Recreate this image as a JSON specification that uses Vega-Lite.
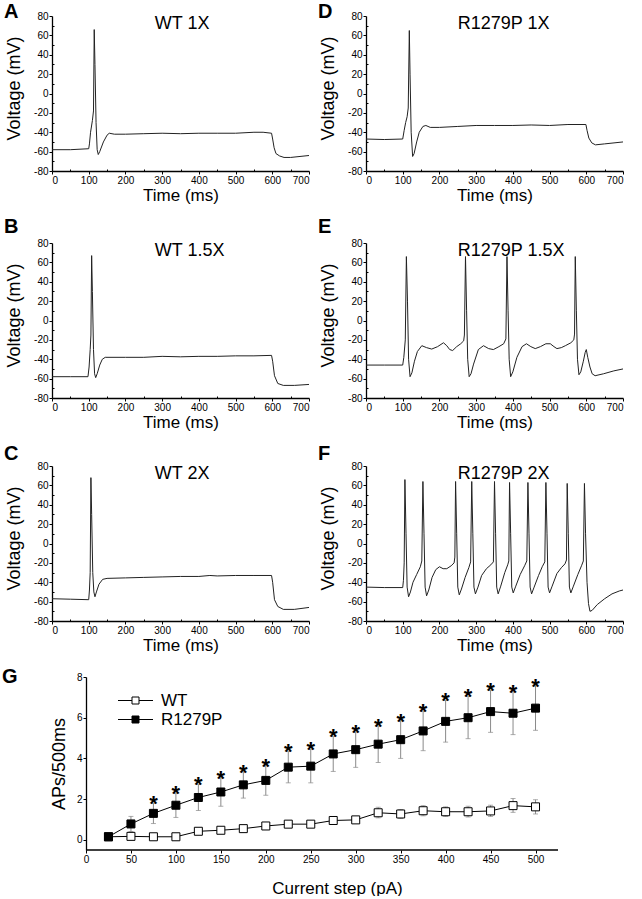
{
 "$schema": "https://vega.github.io/schema/vega-lite/v6.json",
 "padding": {"left": 1, "top": 2, "right": 0, "bottom": 0},
 "config": {
  "font": "Liberation Sans",
  "view": {"stroke": null},
  "axis": {"grid": false, "domainColor": "black", "tickColor": "black", "labelColor": "black", "titleColor": "black", "domainWidth": 1.3, "tickWidth": 1, "labelFont": "Liberation Sans", "titleFont": "Liberation Sans", "titleFontWeight": "normal", "labelOverlap": false, "labelFontSize": 10, "labelPadding": 1, "tickSize": 3},
  "text": {"font": "Liberation Sans", "color": "black"}
 },
 "datasets": {
  "tr": [
   {"p":"A","t":0,"v":-58},{"p":"A","t":50,"v":-58},{"p":"A","t":100,"v":-57},{"p":"A","t":102,"v":-52},{"p":"A","t":105,"v":-40},{"p":"A","t":110,"v":-28},{"p":"A","t":113,"v":-18},{"p":"A","t":115,"v":66},{"p":"A","t":117,"v":30},{"p":"A","t":120,"v":-30},{"p":"A","t":123,"v":-58},{"p":"A","t":126,"v":-63},{"p":"A","t":130,"v":-60},{"p":"A","t":140,"v":-50},{"p":"A","t":150,"v":-43},{"p":"A","t":156,"v":-41},{"p":"A","t":170,"v":-42},{"p":"A","t":200,"v":-42},{"p":"A","t":250,"v":-41.5},{"p":"A","t":300,"v":-41},{"p":"A","t":350,"v":-41.5},{"p":"A","t":400,"v":-41},{"p":"A","t":450,"v":-41},{"p":"A","t":500,"v":-41},{"p":"A","t":550,"v":-40},{"p":"A","t":575,"v":-40},{"p":"A","t":598,"v":-41},{"p":"A","t":601,"v":-47},{"p":"A","t":605,"v":-56},{"p":"A","t":610,"v":-62},{"p":"A","t":620,"v":-64.5},{"p":"A","t":632,"v":-66},{"p":"A","t":650,"v":-66},{"p":"A","t":700,"v":-64},
   {"p":"D","t":0,"v":-47},{"p":"D","t":50,"v":-47.5},{"p":"D","t":100,"v":-47},{"p":"D","t":104,"v":-38},{"p":"D","t":108,"v":-30},{"p":"D","t":112,"v":-24},{"p":"D","t":115,"v":-15},{"p":"D","t":118,"v":65},{"p":"D","t":120,"v":20},{"p":"D","t":123,"v":-40},{"p":"D","t":127,"v":-65},{"p":"D","t":131,"v":-62},{"p":"D","t":138,"v":-50},{"p":"D","t":145,"v":-40},{"p":"D","t":155,"v":-34},{"p":"D","t":163,"v":-33},{"p":"D","t":175,"v":-35},{"p":"D","t":200,"v":-35},{"p":"D","t":250,"v":-34},{"p":"D","t":300,"v":-33},{"p":"D","t":350,"v":-33},{"p":"D","t":400,"v":-33},{"p":"D","t":450,"v":-32.5},{"p":"D","t":500,"v":-33},{"p":"D","t":550,"v":-32},{"p":"D","t":599,"v":-32},{"p":"D","t":602,"v":-38},{"p":"D","t":607,"v":-46},{"p":"D","t":615,"v":-51},{"p":"D","t":625,"v":-53},{"p":"D","t":650,"v":-52},{"p":"D","t":700,"v":-50},
   {"p":"B","t":0,"v":-58},{"p":"B","t":50,"v":-58},{"p":"B","t":98,"v":-58},{"p":"B","t":101,"v":-48},{"p":"B","t":104,"v":-30},{"p":"B","t":106,"v":-15},{"p":"B","t":108,"v":67},{"p":"B","t":110,"v":30},{"p":"B","t":113,"v":-30},{"p":"B","t":116,"v":-55},{"p":"B","t":119,"v":-59},{"p":"B","t":123,"v":-55},{"p":"B","t":130,"v":-46},{"p":"B","t":137,"v":-40},{"p":"B","t":145,"v":-38},{"p":"B","t":200,"v":-38},{"p":"B","t":250,"v":-38},{"p":"B","t":300,"v":-37},{"p":"B","t":350,"v":-37.5},{"p":"B","t":400,"v":-37},{"p":"B","t":450,"v":-37},{"p":"B","t":500,"v":-36.5},{"p":"B","t":550,"v":-36.5},{"p":"B","t":598,"v":-36},{"p":"B","t":601,"v":-42},{"p":"B","t":606,"v":-57},{"p":"B","t":615,"v":-65},{"p":"B","t":630,"v":-67},{"p":"B","t":660,"v":-67},{"p":"B","t":700,"v":-66},
   {"p":"E","t":0,"v":-46},{"p":"E","t":50,"v":-46},{"p":"E","t":100,"v":-46},{"p":"E","t":103,"v":-38},{"p":"E","t":107,"v":-20},{"p":"E","t":110,"v":66},{"p":"E","t":113,"v":20},{"p":"E","t":116,"v":-40},{"p":"E","t":120,"v":-58},{"p":"E","t":125,"v":-54},{"p":"E","t":132,"v":-42},{"p":"E","t":140,"v":-32},{"p":"E","t":152,"v":-26},{"p":"E","t":165,"v":-28},{"p":"E","t":179,"v":-29.5},{"p":"E","t":195,"v":-27},{"p":"E","t":211,"v":-23},{"p":"E","t":220,"v":-26},{"p":"E","t":228,"v":-30},{"p":"E","t":236,"v":-31},{"p":"E","t":247,"v":-27},{"p":"E","t":258,"v":-24},{"p":"E","t":266,"v":-21},{"p":"E","t":268,"v":-15},{"p":"E","t":271,"v":66},{"p":"E","t":274,"v":10},{"p":"E","t":277,"v":-40},{"p":"E","t":281,"v":-58},{"p":"E","t":286,"v":-55},{"p":"E","t":293,"v":-45},{"p":"E","t":306,"v":-30},{"p":"E","t":320,"v":-26},{"p":"E","t":334,"v":-29},{"p":"E","t":347,"v":-30},{"p":"E","t":362,"v":-27},{"p":"E","t":375,"v":-24},{"p":"E","t":381,"v":-19},{"p":"E","t":384,"v":66},{"p":"E","t":387,"v":10},{"p":"E","t":390,"v":-40},{"p":"E","t":394,"v":-58},{"p":"E","t":400,"v":-53},{"p":"E","t":411,"v":-38},{"p":"E","t":425,"v":-27},{"p":"E","t":437,"v":-24},{"p":"E","t":449,"v":-27},{"p":"E","t":461,"v":-29},{"p":"E","t":475,"v":-27},{"p":"E","t":490,"v":-24},{"p":"E","t":502,"v":-24},{"p":"E","t":512,"v":-27},{"p":"E","t":520,"v":-29},{"p":"E","t":532,"v":-28},{"p":"E","t":543,"v":-26},{"p":"E","t":558,"v":-23},{"p":"E","t":566,"v":-20},{"p":"E","t":568,"v":-14},{"p":"E","t":570,"v":66},{"p":"E","t":573,"v":10},{"p":"E","t":576,"v":-40},{"p":"E","t":580,"v":-56},{"p":"E","t":585,"v":-53},{"p":"E","t":592,"v":-42},{"p":"E","t":597,"v":-33},{"p":"E","t":600,"v":-30},{"p":"E","t":604,"v":-38},{"p":"E","t":610,"v":-48},{"p":"E","t":616,"v":-55},{"p":"E","t":624,"v":-57},{"p":"E","t":647,"v":-55},{"p":"E","t":675,"v":-52},{"p":"E","t":700,"v":-50},
   {"p":"C","t":0,"v":-57},{"p":"C","t":50,"v":-57.5},{"p":"C","t":100,"v":-58},{"p":"C","t":102,"v":-48},{"p":"C","t":104,"v":-30},{"p":"C","t":106,"v":68},{"p":"C","t":108,"v":30},{"p":"C","t":111,"v":-30},{"p":"C","t":114,"v":-50},{"p":"C","t":117,"v":-55},{"p":"C","t":121,"v":-50},{"p":"C","t":128,"v":-42},{"p":"C","t":138,"v":-37},{"p":"C","t":150,"v":-36},{"p":"C","t":200,"v":-35.5},{"p":"C","t":250,"v":-35},{"p":"C","t":300,"v":-34.5},{"p":"C","t":350,"v":-34},{"p":"C","t":400,"v":-34},{"p":"C","t":430,"v":-33},{"p":"C","t":450,"v":-33.5},{"p":"C","t":500,"v":-33},{"p":"C","t":550,"v":-33},{"p":"C","t":598,"v":-33},{"p":"C","t":601,"v":-40},{"p":"C","t":606,"v":-58},{"p":"C","t":615,"v":-65},{"p":"C","t":630,"v":-68},{"p":"C","t":660,"v":-68},{"p":"C","t":700,"v":-66},
   {"p":"F","t":0,"v":-45},{"p":"F","t":50,"v":-45.5},{"p":"F","t":100,"v":-45.5},{"p":"F","t":102,"v":-38},{"p":"F","t":104,"v":-20},{"p":"F","t":106,"v":66},{"p":"F","t":109,"v":10},{"p":"F","t":112,"v":-45},{"p":"F","t":116,"v":-55},{"p":"F","t":121,"v":-50},{"p":"F","t":128,"v":-40},{"p":"F","t":138,"v":-32},{"p":"F","t":148,"v":-24},{"p":"F","t":152,"v":-18},{"p":"F","t":155,"v":64},{"p":"F","t":158,"v":10},{"p":"F","t":161,"v":-45},{"p":"F","t":165,"v":-54},{"p":"F","t":171,"v":-48},{"p":"F","t":180,"v":-35},{"p":"F","t":190,"v":-27},{"p":"F","t":200,"v":-24},{"p":"F","t":210,"v":-26},{"p":"F","t":220,"v":-26},{"p":"F","t":232,"v":-23},{"p":"F","t":240,"v":-20},{"p":"F","t":242,"v":-14},{"p":"F","t":244,"v":64},{"p":"F","t":247,"v":10},{"p":"F","t":250,"v":-45},{"p":"F","t":254,"v":-53},{"p":"F","t":260,"v":-47},{"p":"F","t":270,"v":-35},{"p":"F","t":280,"v":-25},{"p":"F","t":285,"v":-19},{"p":"F","t":288,"v":64},{"p":"F","t":291,"v":10},{"p":"F","t":294,"v":-45},{"p":"F","t":298,"v":-52},{"p":"F","t":305,"v":-45},{"p":"F","t":315,"v":-33},{"p":"F","t":328,"v":-26},{"p":"F","t":340,"v":-22},{"p":"F","t":347,"v":-19},{"p":"F","t":350,"v":64},{"p":"F","t":353,"v":10},{"p":"F","t":356,"v":-45},{"p":"F","t":360,"v":-52},{"p":"F","t":367,"v":-44},{"p":"F","t":378,"v":-30},{"p":"F","t":386,"v":-22},{"p":"F","t":389,"v":-18},{"p":"F","t":391,"v":63},{"p":"F","t":394,"v":10},{"p":"F","t":397,"v":-45},{"p":"F","t":401,"v":-51},{"p":"F","t":408,"v":-44},{"p":"F","t":420,"v":-32},{"p":"F","t":432,"v":-23},{"p":"F","t":438,"v":-18},{"p":"F","t":441,"v":63},{"p":"F","t":444,"v":10},{"p":"F","t":447,"v":-45},{"p":"F","t":451,"v":-52},{"p":"F","t":458,"v":-45},{"p":"F","t":470,"v":-33},{"p":"F","t":480,"v":-24},{"p":"F","t":487,"v":-19},{"p":"F","t":490,"v":63},{"p":"F","t":493,"v":10},{"p":"F","t":496,"v":-45},{"p":"F","t":500,"v":-51},{"p":"F","t":507,"v":-44},{"p":"F","t":520,"v":-31},{"p":"F","t":532,"v":-25},{"p":"F","t":542,"v":-21},{"p":"F","t":546,"v":-17},{"p":"F","t":548,"v":62},{"p":"F","t":551,"v":10},{"p":"F","t":554,"v":-45},{"p":"F","t":558,"v":-51},{"p":"F","t":565,"v":-44},{"p":"F","t":577,"v":-32},{"p":"F","t":587,"v":-23},{"p":"F","t":592,"v":-18},{"p":"F","t":595,"v":62},{"p":"F","t":598,"v":10},{"p":"F","t":602,"v":-40},{"p":"F","t":606,"v":-62},{"p":"F","t":610,"v":-70},{"p":"F","t":616,"v":-69},{"p":"F","t":630,"v":-63},{"p":"F","t":650,"v":-57},{"p":"F","t":670,"v":-52},{"p":"F","t":690,"v":-49},{"p":"F","t":700,"v":-48}
  ],
  "g": [
   {"s":"WT","x":25,"m":0.15,"lo":0.10,"hi":0.20},{"s":"WT","x":50,"m":0.17,"lo":0.05,"hi":0.30},{"s":"WT","x":75,"m":0.15,"lo":0.07,"hi":0.23},{"s":"WT","x":100,"m":0.15,"lo":0.07,"hi":0.23},{"s":"WT","x":125,"m":0.42,"lo":0.29,"hi":0.55},{"s":"WT","x":150,"m":0.47,"lo":0.33,"hi":0.61},{"s":"WT","x":175,"m":0.55,"lo":0.42,"hi":0.68},{"s":"WT","x":200,"m":0.68,"lo":0.52,"hi":0.84},{"s":"WT","x":225,"m":0.77,"lo":0.63,"hi":0.91},{"s":"WT","x":250,"m":0.77,"lo":0.63,"hi":0.91},{"s":"WT","x":275,"m":0.95,"lo":0.78,"hi":1.12},{"s":"WT","x":300,"m":0.98,"lo":0.85,"hi":1.11},{"s":"WT","x":325,"m":1.33,"lo":1.08,"hi":1.60},{"s":"WT","x":350,"m":1.27,"lo":1.05,"hi":1.49},{"s":"WT","x":375,"m":1.43,"lo":1.18,"hi":1.68},{"s":"WT","x":400,"m":1.38,"lo":1.15,"hi":1.62},{"s":"WT","x":425,"m":1.38,"lo":1.12,"hi":1.65},{"s":"WT","x":450,"m":1.42,"lo":1.15,"hi":1.70},{"s":"WT","x":475,"m":1.68,"lo":1.35,"hi":2.03},{"s":"WT","x":500,"m":1.62,"lo":1.27,"hi":1.97},
   {"s":"R1279P","x":25,"m":0.15,"lo":0.10,"hi":0.20},{"s":"R1279P","x":50,"m":0.78,"lo":0.41,"hi":1.15},{"s":"R1279P","x":75,"m":1.30,"lo":0.80,"hi":1.80,"st":"*"},{"s":"R1279P","x":100,"m":1.70,"lo":1.10,"hi":2.30,"st":"*"},{"s":"R1279P","x":125,"m":2.08,"lo":1.44,"hi":2.72,"st":"*"},{"s":"R1279P","x":150,"m":2.35,"lo":1.65,"hi":3.05,"st":"*"},{"s":"R1279P","x":175,"m":2.70,"lo":2.05,"hi":3.35,"st":"*"},{"s":"R1279P","x":200,"m":2.92,"lo":2.19,"hi":3.65,"st":"*"},{"s":"R1279P","x":225,"m":3.57,"lo":2.80,"hi":4.35,"st":"*"},{"s":"R1279P","x":250,"m":3.62,"lo":2.80,"hi":4.45,"st":"*"},{"s":"R1279P","x":275,"m":4.22,"lo":3.36,"hi":5.08,"st":"*"},{"s":"R1279P","x":300,"m":4.43,"lo":3.56,"hi":5.30,"st":"*"},{"s":"R1279P","x":325,"m":4.70,"lo":3.80,"hi":5.60,"st":"*"},{"s":"R1279P","x":350,"m":4.92,"lo":4.00,"hi":5.85,"st":"*"},{"s":"R1279P","x":375,"m":5.35,"lo":4.38,"hi":6.32,"st":"*"},{"s":"R1279P","x":400,"m":5.82,"lo":4.80,"hi":6.85,"st":"*"},{"s":"R1279P","x":425,"m":6.00,"lo":4.97,"hi":7.05,"st":"*"},{"s":"R1279P","x":450,"m":6.30,"lo":5.28,"hi":7.35,"st":"*"},{"s":"R1279P","x":475,"m":6.22,"lo":5.17,"hi":7.28,"st":"*"},{"s":"R1279P","x":500,"m":6.47,"lo":5.38,"hi":7.58,"st":"*"}
  ]
 },
 "resolve": {"legend": {"fill": "independent"}},
 "columns": 1,
 "spacing": 14,
 "concat": [
  {"spacing": 7, "hconcat": [
   {"width": 257, "height": 155,
    "encoding": {
     "x": {"field": "t", "type": "quantitative", "scale": {"domain": [0, 700], "nice": false}, "axis": {"values": [0,50,100,150,200,250,300,350,400,450,500,550,600,650,700], "labelExpr": "datum.value % 100 === 0 ? datum.label : ''", "tickSize": {"condition": {"test": "datum.value % 100 === 0", "value": 3}, "value": -2}, "labelOverlap": false, "title": "Time (ms)", "titleFontSize": 17, "titlePadding": 2}},
     "y": {"field": "v", "type": "quantitative", "scale": {"domain": [-80, 80], "nice": false}, "axis": {"values": [-80,-70,-60,-50,-40,-30,-20,-10,0,10,20,30,40,50,60,70,80], "labelExpr": "datum.value % 20 === 0 ? replace(datum.label, '\u2212', '-') : ''", "tickSize": {"condition": {"test": "datum.value % 20 === 0", "value": 3}, "value": -2}, "labelOverlap": false, "title": "Voltage (mV)", "titleFontSize": 18, "titlePadding": 10, "titleY": 72}}
    },
    "layer": [
     {"data": {"name": "tr"}, "transform": [{"filter": "datum.p === 'A'"}],
      "mark": {"type": "line", "color": "#222", "strokeWidth": 1}},
     {"data": {"values": [{"t": 280, "v": 80, "lab": "WT 1X"}]},
      "mark": {"type": "text", "fontSize": 18, "align": "left", "baseline": "alphabetic", "dy": 13},
      "encoding": {"text": {"field": "lab"}}},
     {"data": {"values": [{"t": 0, "v": 80, "lab": "A"}]},
      "mark": {"type": "text", "fontSize": 20, "fontWeight": "bold", "align": "left", "baseline": "alphabetic", "dx": -48, "dy": 2},
      "encoding": {"text": {"field": "lab"}}}
    ]},
   {"width": 257, "height": 155,
    "encoding": {
     "x": {"field": "t", "type": "quantitative", "scale": {"domain": [0, 700], "nice": false}, "axis": {"values": [0,50,100,150,200,250,300,350,400,450,500,550,600,650,700], "labelExpr": "datum.value % 100 === 0 ? datum.label : ''", "tickSize": {"condition": {"test": "datum.value % 100 === 0", "value": 3}, "value": -2}, "labelOverlap": false, "title": "Time (ms)", "titleFontSize": 17, "titlePadding": 2}},
     "y": {"field": "v", "type": "quantitative", "scale": {"domain": [-80, 80], "nice": false}, "axis": {"values": [-80,-70,-60,-50,-40,-30,-20,-10,0,10,20,30,40,50,60,70,80], "labelExpr": "datum.value % 20 === 0 ? replace(datum.label, '\u2212', '-') : ''", "tickSize": {"condition": {"test": "datum.value % 20 === 0", "value": 3}, "value": -2}, "labelOverlap": false, "title": "Voltage (mV)", "titleFontSize": 18, "titlePadding": 10, "titleY": 72}}
    },
    "layer": [
     {"data": {"name": "tr"}, "transform": [{"filter": "datum.p === 'D'"}],
      "mark": {"type": "line", "color": "#222", "strokeWidth": 1}},
     {"data": {"values": [{"t": 250, "v": 80, "lab": "R1279P 1X"}]},
      "mark": {"type": "text", "fontSize": 18, "align": "left", "baseline": "alphabetic", "dy": 13},
      "encoding": {"text": {"field": "lab"}}},
     {"data": {"values": [{"t": 0, "v": 80, "lab": "D"}]},
      "mark": {"type": "text", "fontSize": 20, "fontWeight": "bold", "align": "left", "baseline": "alphabetic", "dx": -48, "dy": 2},
      "encoding": {"text": {"field": "lab"}}}
    ]}
  ]},
  {"spacing": 7, "hconcat": [
   {"width": 257, "height": 155,
    "encoding": {
     "x": {"field": "t", "type": "quantitative", "scale": {"domain": [0, 700], "nice": false}, "axis": {"values": [0,50,100,150,200,250,300,350,400,450,500,550,600,650,700], "labelExpr": "datum.value % 100 === 0 ? datum.label : ''", "tickSize": {"condition": {"test": "datum.value % 100 === 0", "value": 3}, "value": -2}, "labelOverlap": false, "title": "Time (ms)", "titleFontSize": 17, "titlePadding": 2}},
     "y": {"field": "v", "type": "quantitative", "scale": {"domain": [-80, 80], "nice": false}, "axis": {"values": [-80,-70,-60,-50,-40,-30,-20,-10,0,10,20,30,40,50,60,70,80], "labelExpr": "datum.value % 20 === 0 ? replace(datum.label, '\u2212', '-') : ''", "tickSize": {"condition": {"test": "datum.value % 20 === 0", "value": 3}, "value": -2}, "labelOverlap": false, "title": "Voltage (mV)", "titleFontSize": 18, "titlePadding": 10, "titleY": 72}}
    },
    "layer": [
     {"data": {"name": "tr"}, "transform": [{"filter": "datum.p === 'B'"}],
      "mark": {"type": "line", "color": "#222", "strokeWidth": 1}},
     {"data": {"values": [{"t": 280, "v": 80, "lab": "WT 1.5X"}]},
      "mark": {"type": "text", "fontSize": 18, "align": "left", "baseline": "alphabetic", "dy": 13},
      "encoding": {"text": {"field": "lab"}}},
     {"data": {"values": [{"t": 0, "v": 80, "lab": "B"}]},
      "mark": {"type": "text", "fontSize": 20, "fontWeight": "bold", "align": "left", "baseline": "alphabetic", "dx": -48, "dy": -10},
      "encoding": {"text": {"field": "lab"}}}
    ]},
   {"width": 257, "height": 155,
    "encoding": {
     "x": {"field": "t", "type": "quantitative", "scale": {"domain": [0, 700], "nice": false}, "axis": {"values": [0,50,100,150,200,250,300,350,400,450,500,550,600,650,700], "labelExpr": "datum.value % 100 === 0 ? datum.label : ''", "tickSize": {"condition": {"test": "datum.value % 100 === 0", "value": 3}, "value": -2}, "labelOverlap": false, "title": "Time (ms)", "titleFontSize": 17, "titlePadding": 2}},
     "y": {"field": "v", "type": "quantitative", "scale": {"domain": [-80, 80], "nice": false}, "axis": {"values": [-80,-70,-60,-50,-40,-30,-20,-10,0,10,20,30,40,50,60,70,80], "labelExpr": "datum.value % 20 === 0 ? replace(datum.label, '\u2212', '-') : ''", "tickSize": {"condition": {"test": "datum.value % 20 === 0", "value": 3}, "value": -2}, "labelOverlap": false, "title": "Voltage (mV)", "titleFontSize": 18, "titlePadding": 10, "titleY": 72}}
    },
    "layer": [
     {"data": {"name": "tr"}, "transform": [{"filter": "datum.p === 'E'"}],
      "mark": {"type": "line", "color": "#222", "strokeWidth": 1}},
     {"data": {"values": [{"t": 250, "v": 80, "lab": "R1279P 1.5X"}]},
      "mark": {"type": "text", "fontSize": 18, "align": "left", "baseline": "alphabetic", "dy": 13},
      "encoding": {"text": {"field": "lab"}}},
     {"data": {"values": [{"t": 0, "v": 80, "lab": "E"}]},
      "mark": {"type": "text", "fontSize": 20, "fontWeight": "bold", "align": "left", "baseline": "alphabetic", "dx": -48, "dy": -10},
      "encoding": {"text": {"field": "lab"}}}
    ]}
  ]},
  {"spacing": 7, "hconcat": [
   {"width": 257, "height": 155,
    "encoding": {
     "x": {"field": "t", "type": "quantitative", "scale": {"domain": [0, 700], "nice": false}, "axis": {"values": [0,50,100,150,200,250,300,350,400,450,500,550,600,650,700], "labelExpr": "datum.value % 100 === 0 ? datum.label : ''", "tickSize": {"condition": {"test": "datum.value % 100 === 0", "value": 3}, "value": -2}, "labelOverlap": false, "title": "Time (ms)", "titleFontSize": 17, "titlePadding": 2}},
     "y": {"field": "v", "type": "quantitative", "scale": {"domain": [-80, 80], "nice": false}, "axis": {"values": [-80,-70,-60,-50,-40,-30,-20,-10,0,10,20,30,40,50,60,70,80], "labelExpr": "datum.value % 20 === 0 ? replace(datum.label, '\u2212', '-') : ''", "tickSize": {"condition": {"test": "datum.value % 20 === 0", "value": 3}, "value": -2}, "labelOverlap": false, "title": "Voltage (mV)", "titleFontSize": 18, "titlePadding": 10, "titleY": 72}}
    },
    "layer": [
     {"data": {"name": "tr"}, "transform": [{"filter": "datum.p === 'C'"}],
      "mark": {"type": "line", "color": "#222", "strokeWidth": 1}},
     {"data": {"values": [{"t": 280, "v": 80, "lab": "WT 2X"}]},
      "mark": {"type": "text", "fontSize": 18, "align": "left", "baseline": "alphabetic", "dy": 13},
      "encoding": {"text": {"field": "lab"}}},
     {"data": {"values": [{"t": 0, "v": 80, "lab": "C"}]},
      "mark": {"type": "text", "fontSize": 20, "fontWeight": "bold", "align": "left", "baseline": "alphabetic", "dx": -48, "dy": -6},
      "encoding": {"text": {"field": "lab"}}}
    ]},
   {"width": 257, "height": 155,
    "encoding": {
     "x": {"field": "t", "type": "quantitative", "scale": {"domain": [0, 700], "nice": false}, "axis": {"values": [0,50,100,150,200,250,300,350,400,450,500,550,600,650,700], "labelExpr": "datum.value % 100 === 0 ? datum.label : ''", "tickSize": {"condition": {"test": "datum.value % 100 === 0", "value": 3}, "value": -2}, "labelOverlap": false, "title": "Time (ms)", "titleFontSize": 17, "titlePadding": 2}},
     "y": {"field": "v", "type": "quantitative", "scale": {"domain": [-80, 80], "nice": false}, "axis": {"values": [-80,-70,-60,-50,-40,-30,-20,-10,0,10,20,30,40,50,60,70,80], "labelExpr": "datum.value % 20 === 0 ? replace(datum.label, '\u2212', '-') : ''", "tickSize": {"condition": {"test": "datum.value % 20 === 0", "value": 3}, "value": -2}, "labelOverlap": false, "title": "Voltage (mV)", "titleFontSize": 18, "titlePadding": 10, "titleY": 72}}
    },
    "layer": [
     {"data": {"name": "tr"}, "transform": [{"filter": "datum.p === 'F'"}],
      "mark": {"type": "line", "color": "#222", "strokeWidth": 1}},
     {"data": {"values": [{"t": 250, "v": 80, "lab": "R1279P 2X"}]},
      "mark": {"type": "text", "fontSize": 18, "align": "left", "baseline": "alphabetic", "dy": 13},
      "encoding": {"text": {"field": "lab"}}},
     {"data": {"values": [{"t": 0, "v": 80, "lab": "F"}]},
      "mark": {"type": "text", "fontSize": 20, "fontWeight": "bold", "align": "left", "baseline": "alphabetic", "dx": -48, "dy": -6},
      "encoding": {"text": {"field": "lab"}}}
    ]}
  ]},
  {"width": 506, "height": 173,
   "layer": [
    {"data": {"name": "g"},
     "mark": {"type": "errorbar", "ticks": true, "size": 5, "thickness": 1, "color": "#8a8a8a"},
     "encoding": {
      "x": {"field": "x", "type": "quantitative", "scale": {"domain": [-37.8, 525], "nice": false, "zero": false}, "axis": {"values": [0,50,100,150,200,250,300,350,400,450,500], "domain": false, "labelOverlap": false, "title": "Current step (pA)", "titleFontSize": 17, "titlePadding": 16, "titleX": 285}},
      "y": {"field": "lo", "type": "quantitative", "scale": {"domain": [-0.5, 8], "nice": false}, "axis": {"values": [0,1,2,3,4,5,6,7,8], "offset": -34, "labelOverlap": false, "title": "APs/500ms", "titleFontSize": 18, "titlePadding": 8}},
      "y2": {"field": "hi"}
     }},
    {"data": {"values": [{"a": 0, "b": 525, "c": -0.5}]},
     "mark": {"type": "rule", "color": "black", "strokeWidth": 1.3},
     "encoding": {"x": {"field": "a", "type": "quantitative"}, "x2": {"field": "b"}, "y": {"field": "c", "type": "quantitative"}}},
    {"data": {"name": "g"},
     "mark": {"type": "line", "color": "black", "strokeWidth": 1},
     "encoding": {
      "x": {"field": "x", "type": "quantitative"},
      "y": {"field": "m", "type": "quantitative"},
      "detail": {"field": "s"}
     }},
    {"data": {"name": "g"},
     "mark": {"type": "square", "size": 64, "stroke": "black", "strokeWidth": 1, "opacity": 1},
     "encoding": {
      "x": {"field": "x", "type": "quantitative"},
      "y": {"field": "m", "type": "quantitative"},
      "fill": {"field": "s", "type": "nominal", "scale": {"domain": ["WT", "R1279P"], "range": ["white", "black"]},
       "legend": {"title": null, "orient": "none", "legendX": 75, "legendY": 15, "symbolType": "M-5,0H-1M1,0H5M-1,-1H1V1H-1Z", "symbolSize": 49, "symbolStrokeColor": "black", "symbolStrokeWidth": 1, "symbolOpacity": 1, "labelFontSize": 17, "labelOffset": 17, "rowPadding": 1, "padding": 0, "labelColor": "black", "labelFont": "Liberation Sans"}}
     }},
    {"data": {"name": "g"}, "transform": [{"filter": "datum.st"}],
     "mark": {"type": "text", "fontSize": 22, "fontWeight": "bold", "baseline": "alphabetic", "dy": 8},
     "encoding": {
      "x": {"field": "x", "type": "quantitative"},
      "y": {"field": "hi", "type": "quantitative"},
      "text": {"field": "st"}
     }},
    {"data": {"values": [{"x": 0, "m": 8, "lab": "G"}]},
     "mark": {"type": "text", "fontSize": 20, "fontWeight": "bold", "align": "left", "baseline": "alphabetic", "dx": -84, "dy": 6},
     "encoding": {"x": {"field": "x", "type": "quantitative"}, "y": {"field": "m", "type": "quantitative"}, "text": {"field": "lab"}}}
   ]}
 ]
}
